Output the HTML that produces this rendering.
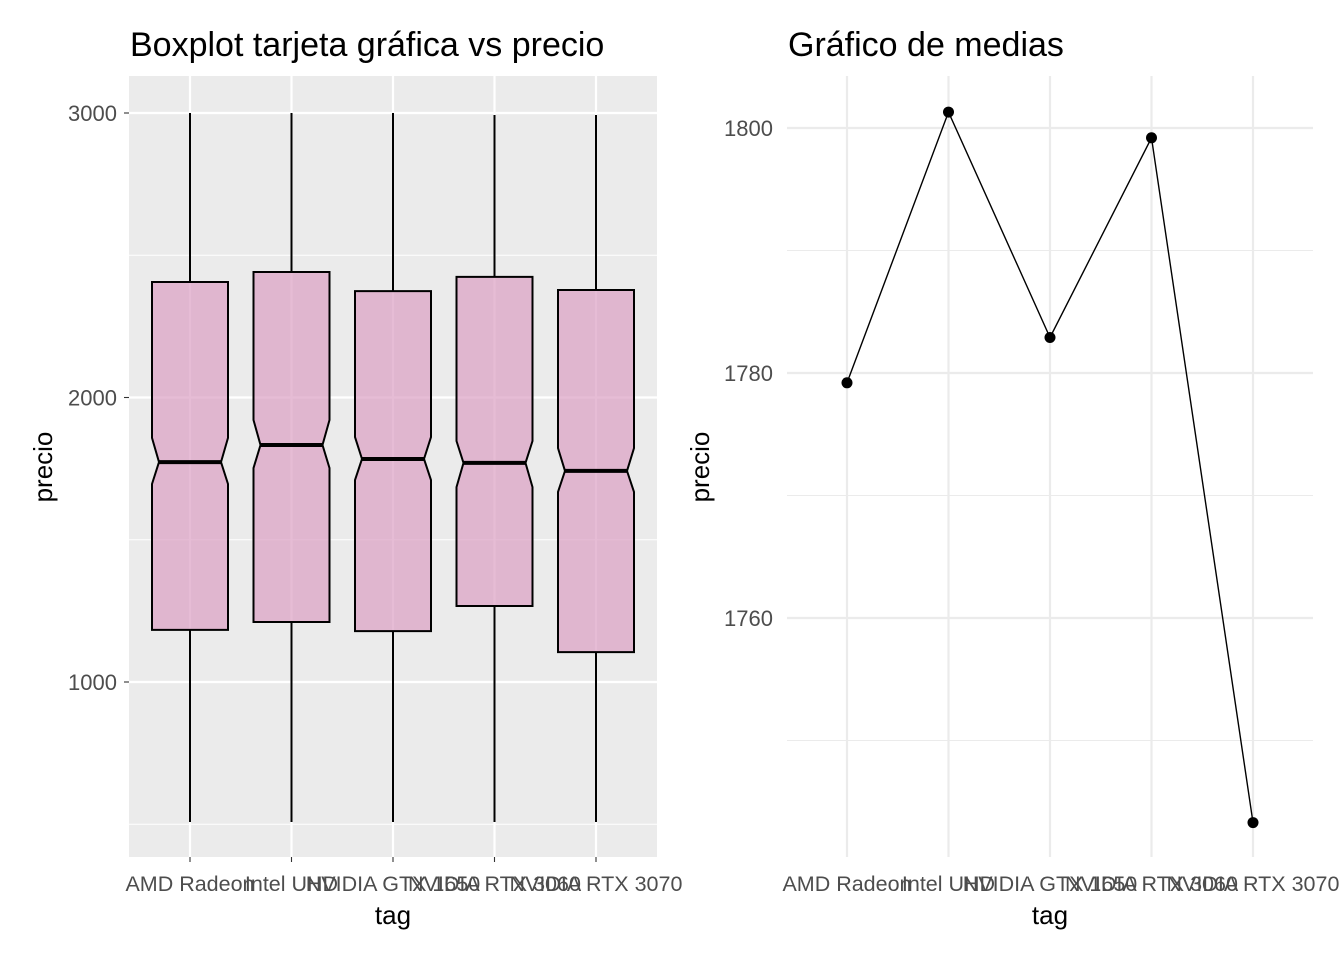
<!DOCTYPE html>
<html><head><meta charset="utf-8">
<style>
body{margin:0;background:#fff;}
svg text{font-family:"Liberation Sans",sans-serif;}
</style></head>
<body>
<svg id="c" width="1344" height="960" xmlns="http://www.w3.org/2000/svg">
<rect width="1344" height="960" fill="#fff"/>
<g id="left"></g>
<g id="right"></g>
</svg>
<script>
const categories = ["AMD Radeon","Intel UHD","NVIDIA GTX 1650","NVIDIA RTX 3060","NVIDIA RTX 3070"];
const whiskerHigh = [3000,3000,3000,2993,2993];
const q3 = [2406,2441,2374,2424,2378];
const medians = [1773,1833,1784,1770,1742];
const q1 = [1183,1211,1179,1267,1105];
const whiskerLow = [508,508,508,508,508];
const notchHigh = [1858,1921,1861,1847,1822];
const notchLow = [1696,1752,1710,1685,1668];
const boxTicks = [1000,2000,3000];
const means = [1779.2,1801.3,1782.9,1799.2,1743.3];
const meanTicks = [1760,1780,1800];
const meanMinor = [1750,1770,1790];

const NS="http://www.w3.org/2000/svg";
function el(parent,tag,attrs,text){const e=document.createElementNS(NS,tag);for(const k in attrs)e.setAttribute(k,attrs[k]);if(text!==undefined)e.textContent=text;parent.appendChild(e);return e;}

// LEFT
const L=document.getElementById('left');
const lx0=129,lx1=657,ly0=76,ly1=857;
const ly=v=>113+(3000-v)*0.2845;
const lxs=i=>190+i*101.5;
let bg=el(L,'rect',{x:lx0,y:ly0,width:lx1-lx0,height:ly1-ly0,fill:'#EBEBEB'});


[500,1500,2500].forEach(v=>{let g=el(L,'line',{x1:lx0,x2:lx1,y1:ly(v),y2:ly(v),stroke:'#fff','stroke-width':1.1});

});
boxTicks.forEach(v=>{let g=el(L,'line',{x1:lx0,x2:lx1,y1:ly(v),y2:ly(v),stroke:'#fff','stroke-width':2.2});


el(L,'line',{x1:lx0-5,x2:lx0,y1:ly(v),y2:ly(v),stroke:'#333','stroke-width':1.1});
let t=el(L,'text',{x:lx0-12,y:ly(v)+8,'text-anchor':'end','font-size':22,fill:'#4D4D4D'},v);

});
categories.forEach((c,i)=>{const x=lxs(i);
el(L,'line',{x1:x,x2:x,y1:ly0,y2:ly1,stroke:'#fff','stroke-width':2.2});
el(L,'line',{x1:x,x2:x,y1:ly1,y2:ly1+5,stroke:'#333','stroke-width':1.1});
let t=el(L,'text',{x:x,y:891,'text-anchor':'middle','font-size':21.5,fill:'#4D4D4D'},c);

});
categories.forEach((c,i)=>{const x=lxs(i),hw=38,mw=31;
let w=el(L,'line',{x1:x,x2:x,y1:ly(whiskerHigh[i]),y2:ly(q3[i]),stroke:'#000','stroke-width':2});


let w2=el(L,'line',{x1:x,x2:x,y1:ly(q1[i]),y2:ly(whiskerLow[i]),stroke:'#000','stroke-width':2});


const p=[[x-hw,ly(q3[i])],[x+hw,ly(q3[i])],[x+hw,ly(notchHigh[i])],[x+mw,ly(medians[i])],[x+hw,ly(notchLow[i])],[x+hw,ly(q1[i])],[x-hw,ly(q1[i])],[x-hw,ly(notchLow[i])],[x-mw,ly(medians[i])],[x-hw,ly(notchHigh[i])]];
let b=el(L,'polygon',{points:p.map(a=>a.join(',')).join(' '),fill:'rgba(220,160,195,0.7)',stroke:'#000','stroke-width':2});


let m=el(L,'line',{x1:x-mw,x2:x+mw,y1:ly(medians[i]),y2:ly(medians[i]),stroke:'#000','stroke-width':4});

});
let t1=el(L,'text',{x:130,y:56,'font-size':34,fill:'#000'},'Boxplot tarjeta gráfica vs precio');


let xa=el(L,'text',{x:393,y:924,'text-anchor':'middle','font-size':26},'tag');


let ya=el(L,'text',{x:52,y:467,'text-anchor':'middle','font-size':26,transform:'rotate(-90 52 467)'},'precio');



// RIGHT
const R=document.getElementById('right');
const rx0=787,rx1=1313;
const ry=v=>128+(1800-v)*12.25;
const rxs=i=>847+i*101.5;
meanMinor.forEach(v=>{let g=el(R,'line',{x1:rx0,x2:rx1,y1:ry(v),y2:ry(v),stroke:'#EBEBEB','stroke-width':1.1});

});
meanTicks.forEach(v=>{let g=el(R,'line',{x1:rx0,x2:rx1,y1:ry(v),y2:ry(v),stroke:'#EBEBEB','stroke-width':2.2});


let t=el(R,'text',{x:rx0-14,y:ry(v)+8,'text-anchor':'end','font-size':22,fill:'#4D4D4D'},v);

});
categories.forEach((c,i)=>{const x=rxs(i);
el(R,'line',{x1:x,x2:x,y1:76,y2:857,stroke:'#EBEBEB','stroke-width':2.2});
let t=el(R,'text',{x:x,y:891,'text-anchor':'middle','font-size':21.5,fill:'#4D4D4D'},c);

});
let ln=el(R,'polyline',{points:means.map((v,i)=>rxs(i)+','+ry(v)).join(' '),fill:'none',stroke:'#000','stroke-width':1.4});


means.forEach((v,i)=>{let c=el(R,'circle',{cx:rxs(i),cy:ry(v),r:5.5,fill:'#000'});

});
let t2=el(R,'text',{x:788,y:56,'font-size':34,fill:'#000'},'Gráfico de medias');


let xa2=el(R,'text',{x:1050,y:924,'text-anchor':'middle','font-size':26},'tag');


let ya2=el(R,'text',{x:709,y:467,'text-anchor':'middle','font-size':26,transform:'rotate(-90 709 467)'},'precio');


</script>
</body></html>
